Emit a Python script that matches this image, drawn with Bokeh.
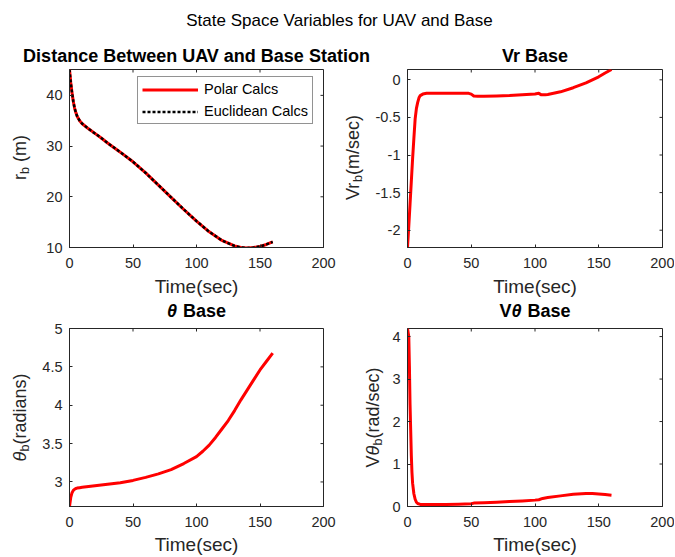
import math
from bokeh.plotting import figure
from bokeh.models import FixedTicker, Range1d, Label, Legend, LegendItem, CustomJSTickFormatter
from bokeh.layouts import column, row
from bokeh.embed import file_html
from bokeh.resources import INLINE

FONT = "Liberation Sans"
RED = "#ff0000"
AXC = "#262626"
TICK_PX = "14.5px"
LABEL_PX = 18
SUB_PX = 12.5
TITLE_PX = 18
NBSP = "\u00a0"

suptitle = "State Space Variables for UAV and Base"
x_label = "Time(sec)"
legend_labels = ["Polar Calcs", "Euclidean Calcs"]

# ---- data ----
time_r = [0, 1, 2, 3, 4, 5, 6, 8, 10, 12, 15, 20, 25, 30, 40, 50, 60, 70, 80,
          90, 100, 110, 120, 130, 135, 140, 145, 150, 155, 160]
r_polar = [45.1, 42.5, 40.5, 38.8, 37.5, 36.6, 35.9, 35.0, 34.4, 34.0, 33.4,
           32.5, 31.6, 30.6, 28.8, 26.9, 24.7, 22.3, 19.9, 17.5, 15.2, 13.1,
           11.4, 10.3, 10.0, 9.9, 10.0, 10.2, 10.6, 11.1]
r_euclid = [45.1, 42.5, 40.5, 38.8, 37.5, 36.6, 35.9, 35.0, 34.4, 34.0, 33.4,
            32.5, 31.6, 30.6, 28.8, 26.9, 24.7, 22.3, 19.9, 17.5, 15.2, 13.1,
            11.4, 10.3, 10.0, 9.9, 10.0, 10.2, 10.6, 11.1]

time_vr = [0, 1, 2, 3, 4, 5, 6, 7, 8, 9, 10, 12, 15, 20, 30, 40, 48, 50, 52,
           55, 60, 70, 80, 90, 100, 103, 105, 108, 110, 120, 130, 140, 150,
           155, 160]
vr = [-2.23, -1.95, -1.65, -1.35, -1.05, -0.78, -0.52, -0.38, -0.30, -0.24,
      -0.21, -0.19, -0.18, -0.18, -0.18, -0.18, -0.18, -0.19, -0.215, -0.22,
      -0.22, -0.215, -0.21, -0.20, -0.19, -0.18, -0.20, -0.20, -0.195, -0.16,
      -0.105, -0.04, 0.04, 0.09, 0.137]

time_th = [0, 1, 2, 3, 4, 5, 6, 8, 10, 15, 20, 30, 40, 50, 60, 70, 80, 90,
           100, 105, 110, 115, 120, 125, 130, 135, 140, 145, 150, 155, 160]
theta = [2.68, 2.80, 2.86, 2.89, 2.905, 2.915, 2.92, 2.925, 2.93, 2.94, 2.95,
         2.97, 2.99, 3.02, 3.06, 3.105, 3.16, 3.24, 3.33, 3.40, 3.48, 3.58,
         3.69, 3.80, 3.93, 4.07, 4.20, 4.33, 4.46, 4.57, 4.68]

time_vth = [0, 1, 1.5, 2, 2.5, 3, 3.5, 4, 5, 6, 7, 8, 10, 15, 20, 30, 40, 50,
            52, 60, 70, 80, 90, 100, 103, 106, 110, 120, 130, 140, 145, 150,
            155, 160]
vtheta = [4.19, 4.0, 3.3, 2.4, 1.8, 1.2, 0.8, 0.55, 0.30, 0.17, 0.10, 0.07,
          0.05, 0.045, 0.045, 0.05, 0.055, 0.065, 0.08, 0.09, 0.10, 0.115,
          0.13, 0.15, 0.16, 0.19, 0.21, 0.25, 0.29, 0.305, 0.305, 0.295,
          0.28, 0.265]

x_ticks = [0, 50, 100, 150, 200]
r_ticks = [10, 20, 30, 40]
vr_ticks = [-2, -1.5, -1, -0.5, 0]
th_ticks = [3, 3.5, 4, 4.5, 5]
vth_ticks = [0, 1, 2, 3, 4]

x_lim = (0, 200)
r_lim = (10, 45.1)
vr_lim = (-2.23, 0.137)
th_lim = (2.68, 5)
vth_lim = (0, 4.19)

# Arial / Liberation Sans advance widths (em), used to chain text pieces
W_REG = {'r': .333, 'b': .556, ' ': .278, NBSP: .278, '(': .333, 'm': .833,
         ')': .333, 'V': .667, '/': .278, 's': .5, 'e': .556, 'c': .5,
         'θ': .556, 'a': .556, 'd': .556, 'i': .222, 'n': .556}
W_BOLD = {'B': .722, 'a': .556, 's': .556, 'e': .556, ' ': .278, NBSP: .278,
          'V': .667, 'θ': .62}

FRAME_H = 178
ROW1 = dict(top=2, bottom=51, tick_sd=10, label_sd=5)
ROW2 = dict(top=8, bottom=51, tick_sd=10, label_sd=4)
PAGE_W = 675
LEFT_W = 38       # width of the left-column y-label strips
LEFT_B = 31       # border left of the left-column frames
LEFT_FW = 254
RIGHT_FW = 255
SHIFT = 5.5       # measured offset of the alphabetic anchor


def tw(text, size, table):
    return sum(table.get(ch, .556) for ch in text) * size


def make(xlim, ylim, xt, yt, fw, left, right, rw):
    p = figure(frame_width=fw, frame_height=FRAME_H,
               x_range=Range1d(*xlim), y_range=Range1d(*ylim),
               toolbar_location=None, output_backend="svg",
               min_border_left=left, min_border_right=right,
               min_border_top=rw["top"], min_border_bottom=rw["bottom"],
               background_fill_color="white", border_fill_color="white")
    p.xgrid.visible = False
    p.ygrid.visible = False
    p.outline_line_color = AXC
    p.outline_line_width = 1
    p.outline_line_alpha = 1
    fmt = CustomJSTickFormatter(code="return String(tick);")
    for ax, t in ((p.xaxis[0], xt), (p.yaxis[0], yt)):
        ax.ticker = FixedTicker(ticks=t)
        ax.formatter = fmt
        ax.major_tick_in = 3
        ax.major_tick_out = 0
        ax.minor_tick_line_color = None
        ax.axis_line_color = AXC
        ax.major_tick_line_color = AXC
        ax.major_label_text_font = FONT
        ax.major_label_text_font_size = TICK_PX
        ax.major_label_text_color = AXC
    p.yaxis[0].major_label_standoff = 7
    p.xaxis[0].major_label_standoff = rw["tick_sd"]
    p.xaxis[0].axis_label = x_label
    p.xaxis[0].axis_label_text_font = FONT
    p.xaxis[0].axis_label_text_font_size = "19px"
    p.xaxis[0].axis_label_text_font_style = "normal"
    p.xaxis[0].axis_label_text_color = AXC
    p.xaxis[0].axis_label_standoff = rw["label_sd"]
    # inward tick marks on the top and right edges of the box
    p.ray(x=xt, y=[ylim[1]] * len(xt), length=3, angle=-math.pi / 2,
          length_units="screen", line_color=AXC, line_width=1)
    p.ray(x=[xlim[1]] * len(yt), y=yt, length=3, angle=math.pi,
          length_units="screen", line_color=AXC, line_width=1)
    return p


def blank(width, height, **borders):
    return figure(width=width, height=height, toolbar_location=None,
                  output_backend="svg", x_axis_type=None, y_axis_type=None,
                  min_border=0, outline_line_color=None,
                  background_fill_color="white", border_fill_color="white",
                  **borders)


def label_fig(width, rw, segs, x0):
    # frame of this strip is aligned with the neighbouring plot frame
    f = blank(width, rw["top"] + FRAME_H + rw["bottom"],
              min_border_top=rw["top"], min_border_bottom=rw["bottom"])
    total = sum(tw(t, s, W_REG) for t, s, st, dx in segs)
    y = FRAME_H / 2 - total / 2
    for t, s, st, dx in segs:
        f.add_layout(Label(x=x0 + dx - SHIFT, y=y, x_units="screen",
                           y_units="screen", text=t, angle=math.pi / 2,
                           text_align="left", text_baseline="alphabetic",
                           text_font=FONT, text_font_size=f"{s}px",
                           text_font_style=st, text_color=AXC))
        y += tw(t, s, W_REG)
    return f


def title_strip(height, base, items):
    # items: (centre x in px, [(text, style), ...]); base = baseline height
    f = blank(PAGE_W, height)
    for cx, segs in items:
        if len(segs) == 1:
            f.add_layout(Label(x=cx, y=base + SHIFT, x_units="screen",
                               y_units="screen", text=segs[0][0],
                               text_align="center",
                               text_baseline="alphabetic", text_font=FONT,
                               text_font_size=f"{TITLE_PX}px",
                               text_font_style=segs[0][1],
                               text_color="black"))
            continue
        total = sum(tw(t, TITLE_PX, W_BOLD) for t, st in segs)
        x = cx - total / 2
        for t, st in segs:
            f.add_layout(Label(x=x, y=base + SHIFT, x_units="screen",
                               y_units="screen", text=t, text_align="left",
                               text_baseline="alphabetic", text_font=FONT,
                               text_font_size=f"{TITLE_PX}px",
                               text_font_style=st, text_color="black"))
            x += tw(t, TITLE_PX, W_BOLD)
    return f


CX_LEFT = LEFT_W + LEFT_B + LEFT_FW / 2

# ---- top-left ----
p1 = make(x_lim, r_lim, x_ticks, r_ticks, LEFT_FW, LEFT_B, 17, ROW1)
l1 = p1.line(time_r, r_polar, line_color=RED, line_width=3, line_join="round")
l2 = p1.line(time_r, r_euclid, line_color="black", line_width=2.5,
             line_dash="3 2")
leg = Legend(items=[LegendItem(label=legend_labels[0], renderers=[l1]),
                    LegendItem(label=legend_labels[1], renderers=[l2])],
             location=(68, 123), label_text_font=FONT,
             label_text_font_size="14.5px", label_text_color="black",
             border_line_color=AXC, border_line_width=1,
             background_fill_color="white", background_fill_alpha=1,
             padding=4, spacing=6, glyph_width=56, glyph_height=15,
             label_height=15, label_standoff=6, margin=0)
p1.add_layout(leg)
y1 = label_fig(LEFT_W, ROW1, [("r", LABEL_PX, "normal", 0),
                              ("b", SUB_PX, "normal", 5),
                              (NBSP + "(m)", LABEL_PX, "normal", 0)], 25)

# ---- top-right ----
Y2_W, P2_B = 24, 43
p2 = make(x_lim, vr_lim, x_ticks, vr_ticks, RIGHT_FW, P2_B, 12, ROW1)
p2.line(time_vr, vr, line_color=RED, line_width=3, line_join="round")
y2 = label_fig(Y2_W, ROW1, [("Vr", LABEL_PX, "normal", 0),
                            ("b", SUB_PX, "normal", 5),
                            ("(m/sec)", LABEL_PX, "normal", 0)], 17.5)
CX_R1 = 340 + Y2_W + P2_B + RIGHT_FW / 2

# ---- bottom-left ----
p3 = make(x_lim, th_lim, x_ticks, th_ticks, LEFT_FW, LEFT_B, 17, ROW2)
p3.line(time_th, theta, line_color=RED, line_width=3, line_join="round")
y3 = label_fig(LEFT_W, ROW2, [("θ", LABEL_PX, "italic", 0),
                              ("b", SUB_PX, "normal", 5),
                              ("(radians)", LABEL_PX, "normal", 0)], 25)

# ---- bottom-right ----
Y4_W, P4_B = 46, 21
p4 = make(x_lim, vth_lim, x_ticks, vth_ticks, RIGHT_FW, P4_B, 12, ROW2)
p4.line(time_vth, vtheta, line_color=RED, line_width=3, line_join="round")
y4 = label_fig(Y4_W, ROW2, [("V", LABEL_PX, "normal", 0),
                            ("θ", LABEL_PX, "italic", 0),
                            ("b", SUB_PX, "normal", 5),
                            ("(rad/sec)", LABEL_PX, "normal", 0)], 38)
CX_R2 = 340 + Y4_W + P4_B + RIGHT_FW / 2

# ---- titles ----
tf = blank(PAGE_W, 36)
tf.add_layout(Label(x=339, y=16, x_units="screen", y_units="screen",
                    text=suptitle, text_align="center", text_baseline="middle",
                    text_font=FONT, text_font_size="17px",
                    text_color="black"))
t1 = title_strip(31, 6, [
    (CX_LEFT, [("Distance Between UAV and Base Station", "bold")]),
    (CX_R1, [("Vr Base", "bold")])])
t2 = title_strip(21, 4, [
    (CX_LEFT, [("θ", "bold italic"), (NBSP + "Base", "bold")]),
    (CX_R2, [("V", "bold"), ("θ", "bold italic"), (NBSP + "Base", "bold")])])

layout = column(tf, t1, row(y1, p1, y2, p2), t2, row(y3, p3, y4, p4))
open("out.html", "w").write(file_html(layout, INLINE))
